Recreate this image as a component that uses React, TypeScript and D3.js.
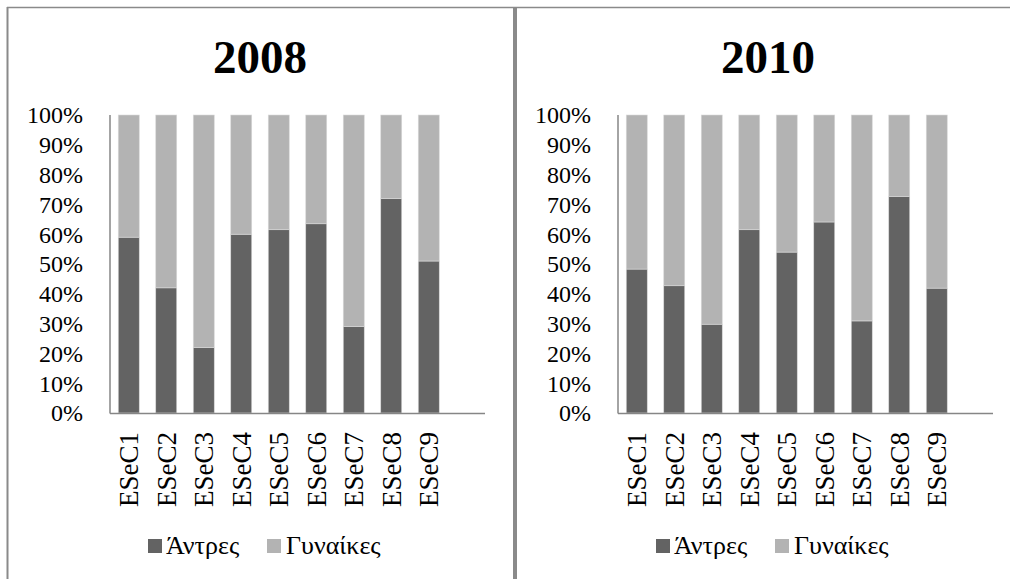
import React from "react";
import * as d3 from "d3";

const categories = ["ESeC1", "ESeC2", "ESeC3", "ESeC4", "ESeC5", "ESeC6", "ESeC7", "ESeC8", "ESeC9"];
const years = ["2008", "2010"];
const men2008 = [59, 42, 22, 60, 61.5, 63.5, 29, 72, 51];
const men2010 = [48.3, 42.7, 29.8, 61.5, 54, 64.1, 30.9, 72.7, 41.9];
const seriesNames = ["Άντρες", "Γυναίκες"];
const seriesColors = ["#636363", "#b3b3b3"];
const yTicks = [0, 10, 20, 30, 40, 50, 60, 70, 80, 90, 100];

const FONT = "'Liberation Serif', 'Times New Roman', serif";

function Panel({ title, men, ox }: { title: string; men: number[]; ox: number }) {
  const axisX = 110;
  const bandW = 37.5;
  const x = d3
    .scaleBand<string>()
    .domain(categories)
    .range([axisX, axisX + bandW * categories.length])
    .paddingInner(0.44)
    .paddingOuter(0.22);
  const y = d3.scaleLinear().domain([0, 100]).range([413, 115]);
  const rows = categories.map((c, i) => ({ c, men: men[i], women: 100 - men[i] }));
  const stack = d3.stack<any>().keys(["men", "women"])(rows);
  const axisEnd = axisX + bandW * (categories.length + 1);
  return (
    <g transform={`translate(${ox},0)`}>
      <text x={260} y={73} textAnchor="middle" fontFamily={FONT} fontWeight="bold" fontSize={47} fill="#000">
        {title}
      </text>
      {yTicks.map((t) => (
        <text key={t} x={83} y={y(t)} dy="0.35em" textAnchor="end" fontFamily={FONT} fontSize={24} fill="#000">
          {t}%
        </text>
      ))}
      {stack.map((s, si) =>
        s.map((d, i) => (
          <rect
            key={`${si}-${i}`}
            x={x(categories[i])}
            width={x.bandwidth()}
            y={y(d[1])}
            height={y(d[0]) - y(d[1])}
            fill={seriesColors[si]}
            stroke="#d9d9d9"
            strokeWidth={0.6}
          />
        ))
      )}
      <line x1={axisX} x2={axisX} y1={115} y2={413.5} stroke="#868686" strokeWidth={1.5} />
      <line x1={axisX} x2={axisEnd} y1={413.5} y2={413.5} stroke="#868686" strokeWidth={1.5} />
      {categories.map((c) => (
        <text
          key={c}
          transform={`translate(${(x(c) as number) + x.bandwidth() / 2},432) rotate(-90)`}
          textAnchor="end"
          dy="0.35em"
          fontFamily={FONT}
          fontSize={27}
          fill="#000"
        >
          {c}
        </text>
      ))}
      <g>
        <rect x={148} y={539} width={14} height={14} fill={seriesColors[0]} />
        <text x={166} y={554} fontFamily={FONT} fontSize={26} fill="#000">
          {seriesNames[0]}
        </text>
        <rect x={267} y={539} width={14} height={14} fill={seriesColors[1]} />
        <text x={286} y={554} fontFamily={FONT} fontSize={26} fill="#000">
          {seriesNames[1]}
        </text>
      </g>
    </g>
  );
}

export default function App() {
  return (
    <svg
      width={1010}
      height={579}
      style={{ position: "absolute", left: 0, top: 0, background: "#fff" }}
    >
      <rect x={0} y={0} width={1010} height={579} fill="#fff" />
      <line x1={7} x2={1010} y1={7.5} y2={7.5} stroke="#8a8a8a" strokeWidth={1.5} />
      <line x1={7.5} x2={7.5} y1={7} y2={579} stroke="#8a8a8a" strokeWidth={2} />
      <line x1={515} x2={515} y1={7} y2={579} stroke="#8a8a8a" strokeWidth={4} />
      <Panel title={years[0]} men={men2008} ox={0} />
      <Panel title={years[1]} men={men2010} ox={508} />
    </svg>
  );
}
